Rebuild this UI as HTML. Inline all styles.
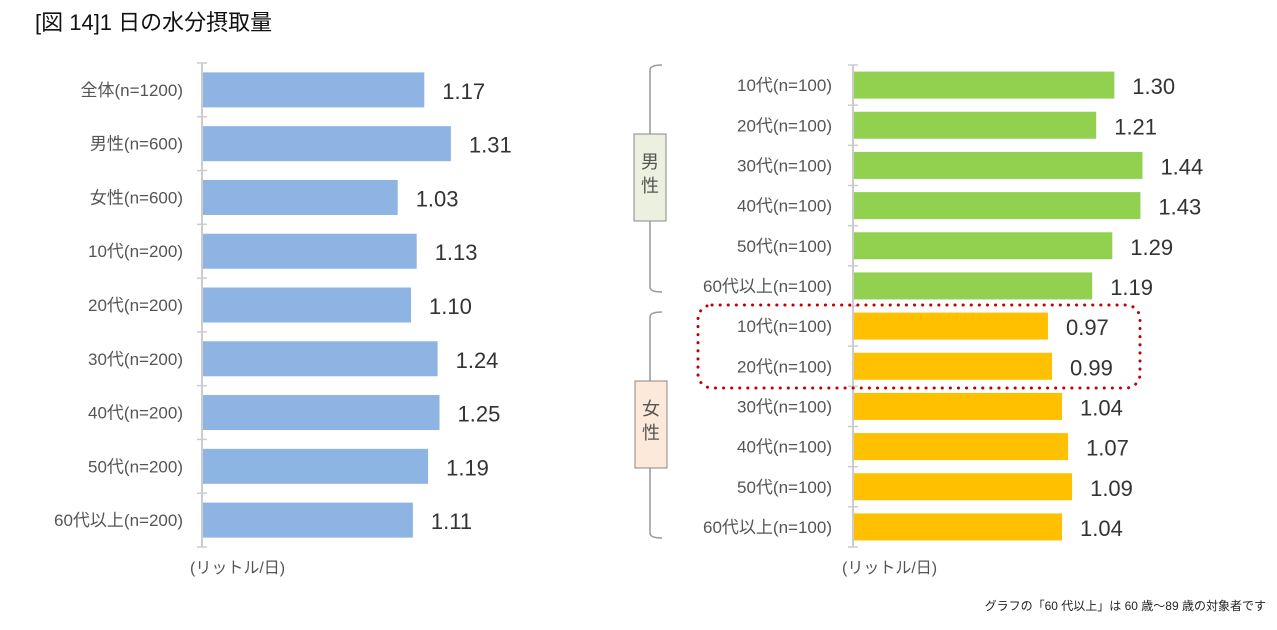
<!DOCTYPE html>
<html><head><meta charset="utf-8"><style>
body{margin:0;background:#fff;font-family:"Liberation Sans","Noto Sans CJK JP",sans-serif;}
</style></head><body>
<svg width="1277" height="625" viewBox="0 0 1277 625" xmlns="http://www.w3.org/2000/svg" font-family="Liberation Sans, Noto Sans CJK JP, sans-serif">
<text x="35" y="30" font-size="22" fill="#111">[図 14]1 日の水分摂取量</text>
<g id="left"></g>
<g id="right"></g>
<text x="190" y="573" font-size="16" fill="#555">(リットル/日)</text>
<text x="842" y="573" font-size="16" fill="#555">(リットル/日)</text>
<text x="1266" y="610" font-size="12" fill="#222" text-anchor="end">グラフの「60 代以上」は 60 歳～89 歳の対象者です</text>
<path d="M662,65 Q650,65 650,70 L650,287 Q650,292 662,292" fill="none" stroke="#999" stroke-width="1.5"/>
<rect x="634" y="134" width="32" height="87" fill="#ebf1de" stroke="#888"/>
<text x="650" y="168" font-size="18" fill="#555" text-anchor="middle">男</text>
<text x="650" y="192" font-size="18" fill="#555" text-anchor="middle">性</text>
<path d="M662,312 Q650,312 650,317 L650,533 Q650,538 662,538" fill="none" stroke="#999" stroke-width="1.5"/>
<rect x="635" y="381" width="32" height="87" fill="#fde9d9" stroke="#888"/>
<text x="651" y="415" font-size="18" fill="#555" text-anchor="middle">女</text>
<text x="651" y="439" font-size="18" fill="#555" text-anchor="middle">性</text>
<rect x="698" y="305" width="442" height="83" rx="14" fill="none" stroke="#c00000" stroke-width="3" stroke-dasharray="0.1 8" stroke-linecap="round"/>
</svg>
<script>
const leftCats=["全体(n=1200)","男性(n=600)","女性(n=600)","10代(n=200)","20代(n=200)","30代(n=200)","40代(n=200)","50代(n=200)","60代以上(n=200)"];
const leftVals=[1.17,1.31,1.03,1.13,1.10,1.24,1.25,1.19,1.11];
const rightCats=["10代(n=100)","20代(n=100)","30代(n=100)","40代(n=100)","50代(n=100)","60代以上(n=100)","10代(n=100)","20代(n=100)","30代(n=100)","40代(n=100)","50代(n=100)","60代以上(n=100)"];
const rightVals=[1.30,1.21,1.44,1.43,1.29,1.19,0.97,0.99,1.04,1.07,1.09,1.04];
const rightGroups=["male","male","male","male","male","male","female","female","female","female","female","female"];
const NS="http://www.w3.org/2000/svg";
function mk(t,a){const e=document.createElementNS(NS,t);for(const k in a)e.setAttribute(k,a[k]);return e;}
function draw(g,cats,vals,cfg){
  const n=cats.length, step=(cfg.y1-cfg.y0)/n;
  const x=v=>cfg.ax+v*cfg.scale;
  const ax=mk("line",{x1:cfg.ax,x2:cfg.ax,y1:cfg.y0,y2:cfg.y1,stroke:"#ccc","stroke-width":2});
  
  
  g.appendChild(ax);
  for(let i=0;i<=n;i++){const t=mk("line",{x1:cfg.ax-5,x2:cfg.ax+5,y1:cfg.y0+i*step,y2:cfg.y0+i*step,stroke:"#ccc","stroke-width":1.5});
    
    
    g.appendChild(t);}
  cats.forEach((c,i)=>{
    const cy=cfg.y0+(i+0.5)*step;
    const col=cfg.color(i);
    const r=mk("rect",{x:cfg.ax+1,y:cy-cfg.bh/2,width:x(vals[i])-cfg.ax-1,height:cfg.bh,fill:col});
    
    
    g.appendChild(r);
    const l=mk("text",{x:cfg.lx,y:cy+6,"font-size":17,fill:"#555","text-anchor":"end"});l.textContent=c;
    
    
    g.appendChild(l);
    const v=mk("text",{x:x(vals[i])+cfg.vo,y:cy+cfg.vy,"font-size":22,fill:"#333"});v.textContent=vals[i].toFixed(2);
    
    
    g.appendChild(v);
  });
}
draw(document.getElementById("left"),leftCats,leftVals,{ax:202,y0:63,y1:547,scale:190,bh:35,lx:183,vo:18,vy:9,color:()=>"#8eb4e3"});
draw(document.getElementById("right"),rightCats,rightVals,{ax:853,y0:65,y1:547,scale:201,bh:27,lx:832,vo:18,vy:9,color:i=>rightGroups[i]==="male"?"#92d050":"#ffc000"});
</script>
</body></html>
